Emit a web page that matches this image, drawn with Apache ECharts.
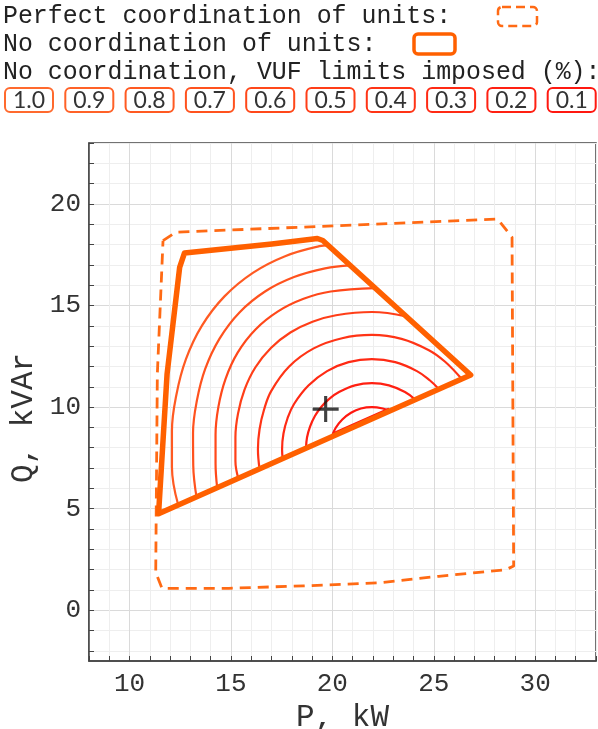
<!DOCTYPE html>
<html>
<head>
<meta charset="utf-8">
<script src="https://cdn.jsdelivr.net/npm/echarts@6/dist/echarts.min.js"></script>
<style>
html,body{margin:0;padding:0;background:#fff;}
#chart{width:598px;height:729px;}
</style>
</head>
<body>
<div id="chart"></div>
<script>
// ---------- data (P in kW, Q in kVAr) ----------
var perfectP = [11.65, 12.28, 20.32, 28.15, 28.86, 28.94, 28.55, 25.25, 22.29, 18.60, 14.90, 11.60, 11.29, 11.37, 11.65];
var perfectQ = [18.19, 18.61, 18.93, 19.26, 18.36, 2.18, 1.99, 1.67, 1.35, 1.20, 1.08, 1.07, 1.86, 11.63, 18.19];

var noCoordP = [11.43, 11.85, 12.47, 12.71, 17.02, 19.26, 19.53, 26.82, 11.43];
var noCoordQ = [4.75, 11.63, 16.88, 17.59, 18.03, 18.30, 18.20, 11.58, 4.75];

// VUF-limited regions (1.0 and 0.9 coincide with the uncoordinated region)
var vuf10P = noCoordP, vuf10Q = noCoordQ;
var vuf09P = noCoordP, vuf09Q = noCoordQ;
var vuf08P = [12.40, 12.09, 12.09, 12.31, 12.78, 13.57, 14.68, 16.08, 17.67, 19.36, 19.80];
var vuf08Q = [5.18, 7.04, 8.83, 10.61, 12.36, 14.01, 15.45, 16.61, 17.43, 17.92, 17.96];
var vuf07P = [13.30, 13.14, 13.13, 13.32, 13.73, 14.43, 15.42, 16.68, 18.11, 19.64, 20.89];
var vuf07Q = [5.58, 7.14, 8.72, 10.32, 11.88, 13.36, 14.66, 15.69, 16.40, 16.83, 16.98];
var vuf06P = [14.32, 14.24, 14.24, 14.38, 14.73, 15.33, 16.21, 17.32, 18.58, 19.92, 22.10];
var vuf06Q = [6.03, 7.24, 8.62, 10.01, 11.38, 12.68, 13.82, 14.71, 15.33, 15.69, 15.86];
var vuf05P = [15.36, 15.22, 15.22, 15.35, 15.67, 16.20, 16.97, 17.93, 19.02, 20.18, 21.95, 23.65];
var vuf05Q = [6.49, 7.34, 8.52, 9.69, 10.86, 11.95, 12.91, 13.67, 14.20, 14.52, 14.68, 14.46];
var vuf04P = [16.41, 16.33, 16.41, 16.63, 16.99, 17.87, 19.08, 20.48, 21.95, 23.41, 24.76, 25.56, 26.38];
var vuf04Q = [6.95, 7.93, 8.91, 9.87, 10.80, 12.00, 12.89, 13.39, 13.55, 13.36, 12.80, 12.23, 11.38];
var vuf03P = [17.55, 17.52, 17.59, 17.79, 18.11, 18.82, 19.74, 20.80, 21.95, 23.10, 24.17, 24.80, 25.26];
var vuf03Q = [7.46, 7.93, 8.70, 9.45, 10.15, 11.06, 11.77, 12.21, 12.36, 12.21, 11.77, 11.32, 10.88];
var vuf02P = [18.70, 18.75, 18.90, 19.14, 19.46, 19.86, 20.33, 21.11, 21.95, 22.79, 23.58, 24.10];
var vuf02Q = [7.97, 8.50, 9.04, 9.56, 10.02, 10.42, 10.74, 11.07, 11.18, 11.07, 10.74, 10.36];
var vuf01P = [19.97, 20.16, 20.49, 20.92, 21.41, 21.95, 22.49, 22.83];
var vuf01Q = [8.54, 8.97, 9.39, 9.72, 9.93, 10.00, 9.93, 9.81];
// lower boundary of the 0.1 region (just above the uncoordinated edge)
var vuf01BaseP = [20.05, 22.75];
var vuf01BaseQ = [8.72, 9.91];

var vufLimits = ['1.0', '0.9', '0.8', '0.7', '0.6', '0.5', '0.4', '0.3', '0.2', '0.1'];
var vufP = [vuf10P, vuf09P, vuf08P, vuf07P, vuf06P, vuf05P, vuf04P, vuf03P, vuf02P, vuf01P];
var vufQ = [vuf10Q, vuf09Q, vuf08Q, vuf07Q, vuf06Q, vuf05Q, vuf04Q, vuf03Q, vuf02Q, vuf01Q];

var optimumP = [19.67];
var optimumQ = [9.90];

var xTicks = [8,9,10,11,12,13,14,15,16,17,18,19,20,21,22,23,24,25,26,27,28,29,30,31,32,33];
var xLabels = [10, 15, 20, 25, 30];
var yTicks = [-2,-1,0,1,2,3,4,5,6,7,8,9,10,11,12,13,14,15,16,17,18,19,20,21,22,23];
var yLabels = [0, 5, 10, 15, 20];

// ---------- styles ----------
var FONT = '"Liberation Mono", "DejaVu Sans Mono", monospace';
var vufColors = ['#ff6a2e', '#ff6228', '#ff5a22', '#ff521e', '#ff481a', '#ff3e18', '#ff3416', '#ff2a14', '#ff2012', '#ff1810'];
var perfectColor = '#ff6a14';
var noCoordColor = '#ff6000';
var minorGrid = '#eeeeee', majorGrid = '#dadada';

function pairs(P, Q) { return P.map(function (p, i) { return [p, Q[i]]; }); }

var series = [];
series.push({
  name: 'Perfect coordination of units', type: 'line', data: pairs(perfectP, perfectQ),
  showSymbol: false, symbol: 'none', z: 2, silent: true,
  lineStyle: { color: perfectColor, width: 2.8, type: [11, 7], join: 'round', cap: 'butt' }
});
for (var i = 0; i < vufLimits.length; i++) {
  var isPoly = i < 2;
  series.push({
    name: 'VUF ' + vufLimits[i], type: 'line', data: pairs(vufP[i], vufQ[i]),
    showSymbol: false, symbol: 'none', smooth: isPoly ? false : 0.4, z: 3, silent: true,
    lineStyle: { color: vufColors[i], width: 2.2, join: 'round', cap: 'round' }
  });
}
series.push({
  name: 'VUF 0.1 base', type: 'line', data: pairs(vuf01BaseP, vuf01BaseQ),
  showSymbol: false, symbol: 'none', z: 3, silent: true,
  lineStyle: { color: vufColors[9], width: 2, cap: 'round' }
});
series.push({
  name: 'No coordination of units', type: 'line', data: pairs(noCoordP, noCoordQ),
  showSymbol: false, symbol: 'none', z: 5, silent: true,
  lineStyle: { color: noCoordColor, width: 5.5, join: 'round', cap: 'round' }
});
series.push({
  name: 'optimum', type: 'scatter', data: pairs(optimumP, optimumQ), z: 6, silent: true,
  symbol: 'path://M-1,-0.12L1,-0.12L1,0.12L-1,0.12Z M-0.12,-1L0.12,-1L0.12,1L-0.12,1Z',
  symbolSize: 26, itemStyle: { color: '#111' }
});

// ---------- legend drawn as graphics ----------
var graphics = [];
function txt(x, y, s, size) {
  graphics.push({ type: 'text', x: x, y: y, silent: true,
    style: { text: s, fontFamily: FONT, fontSize: size, fill: '#222', verticalAlign: 'middle', align: 'left' } });
}
txt(3, 16, 'Perfect coordination of units:', 24.9);
graphics.push({ type: 'rect', silent: true, shape: { x: 498, y: 7, width: 39, height: 19, r: 4 },
  style: { fill: 'none', stroke: perfectColor, lineWidth: 2.5, lineDash: [9, 5] } });
txt(3, 44, 'No coordination of units:', 24.9);
graphics.push({ type: 'rect', silent: true, shape: { x: 414, y: 34, width: 41, height: 20, r: 4 },
  style: { fill: 'none', stroke: noCoordColor, lineWidth: 3.5 } });
txt(3, 72, 'No coordination, VUF limits imposed (%):', 24.9);
for (var k = 0; k < vufLimits.length; k++) {
  var bx = 5 + k * 60.3;
  graphics.push({ type: 'rect', silent: true, shape: { x: bx, y: 88, width: 48, height: 24, r: 5 },
    style: { fill: '#fff', stroke: vufColors[k], lineWidth: 2 } });
  graphics.push({ type: 'text', silent: true, x: bx + 24, y: 100.5,
    style: { text: vufLimits[k], fontFamily: 'Lato, "DejaVu Sans", sans-serif', fontWeight: 400, fontSize: 23, fill: '#333', align: 'center', verticalAlign: 'middle' } });
}

var chart = echarts.init(document.getElementById('chart'), null, { renderer: 'canvas' });
chart.setOption({
  animation: false,
  backgroundColor: '#fff',
  grid: { left: 89, right: 2, top: 143, bottom: 68, show: true, borderColor: '#444', borderWidth: 1.5,
          backgroundColor: 'transparent', containLabel: false, outerBoundsMode: 'none' },
  xAxis: {
    type: 'value', min: 8, max: 33,
    name: 'P, kW', nameLocation: 'middle', nameGap: 38,
    nameTextStyle: { fontFamily: FONT, fontSize: 31, color: '#333' },
    axisLine: { show: true, onZero: false, lineStyle: { color: '#444', width: 1.5 } },
    axisTick: { show: true, inside: true, length: 5, customValues: xTicks, lineStyle: { color: '#444', width: 1 } },
    axisLabel: { customValues: xLabels, fontFamily: FONT, fontSize: 26, color: '#333', margin: 10 },
    splitLine: { show: true, lineStyle: { color: [minorGrid, minorGrid, majorGrid, minorGrid, minorGrid], width: 1 } }
  },
  yAxis: {
    type: 'value', min: -2.5, max: 23,
    name: 'Q, kVAr', nameLocation: 'middle', nameGap: 40,
    nameTextStyle: { fontFamily: FONT, fontSize: 31, color: '#333', padding: [0, 32, 0, 0] },
    axisLine: { show: true, onZero: false, lineStyle: { color: '#444', width: 1.5 } },
    axisTick: { show: true, inside: true, length: 5, customValues: yTicks, lineStyle: { color: '#444', width: 1 } },
    axisLabel: { customValues: yLabels, fontFamily: FONT, fontSize: 26, color: '#333', margin: 8 },
    splitLine: { show: true, lineStyle: { color: [minorGrid, minorGrid, majorGrid, minorGrid, minorGrid], width: 1 } }
  },
  series: series,
  graphic: graphics
});
</script>
</body>
</html>
